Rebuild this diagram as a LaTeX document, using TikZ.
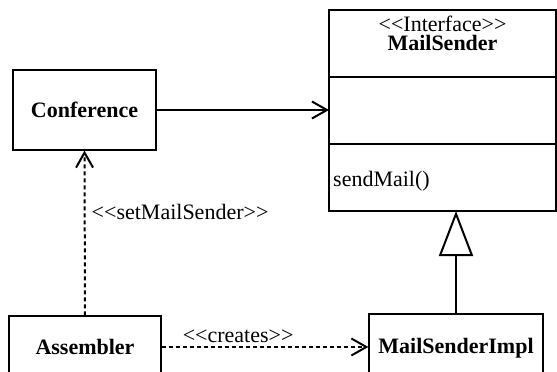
\documentclass[tikz,border=0pt]{standalone}
\usepackage{fontspec}
\setmainfont{Liberation Serif}
\usepackage{tikz}
\usetikzlibrary{arrows.meta, positioning}
\tikzstyle{class}=[draw,fill=white,rectangle,line width=1.2pt,inner sep=0pt]
\tikzstyle{part}=[draw,rectangle,line width=2pt,inner sep=0pt,outer sep=0pt,minimum width=227pt,minimum height=67pt]
\tikzstyle{every node}=[font=\fontsize{22}{18}\selectfont]
\tikzstyle{assoc}=[line width=2pt,-{Straight Barb[length=15pt,width=17pt]}]
\tikzstyle{dep}=[assoc,dash pattern=on 4pt off 3pt]
\tikzstyle{inherit}=[line width=2pt,-{Triangle[open,length=45pt,width=34pt]}]
\newcommand{\stereo}[1]{<\kern0pt<#1>\kern0pt>}

\begin{document}
\begin{tikzpicture}[x=1pt,y=-1pt]
    \useasboundingbox (0,0) rectangle (557,372);

    % interface: name, attributes, operations
    \node[part] (head) at (442.5,43.5) {};
    \node[part, below=0pt of head] (attrs) {};
    \node[part, below=0pt of attrs] (ops) {};
    \node[anchor=base, inner sep=0pt] (stereo) at (442.5,31) {\stereo{Interface}};
    \node[anchor=base, inner sep=0pt] (msname) at (442.5,50) {\textbf{MailSender}};
    \node[anchor=base west, inner sep=0pt] (sendmail) at (333,186) {sendMail()};

    \node[class, minimum width=143pt, minimum height=80pt] (conf) at (84.5,110) {\textbf{Conference}};
    \node[class, minimum width=152pt, minimum height=62pt] (asm) at (85,347) {\textbf{Assembler}};
    \node[class, minimum width=174pt, minimum height=68pt] (impl) at (456,348) {\textbf{MailSenderImpl}};

    \draw[assoc] (conf.east) -- (conf.east -| attrs.west);
    \draw[dep] (asm.north) -- node[right, pos=0.63, inner sep=6pt] (setlabel) {\stereo{setMailSender}} (conf.south);
    \draw[dep] (asm.east) -- node[above, pos=0.37, inner sep=3pt] (createlabel) {\stereo{creates}} (asm.east -| impl.west);
    \draw[inherit] (impl.north) -- (impl.north |- ops.south);
\end{tikzpicture}
\end{document}
